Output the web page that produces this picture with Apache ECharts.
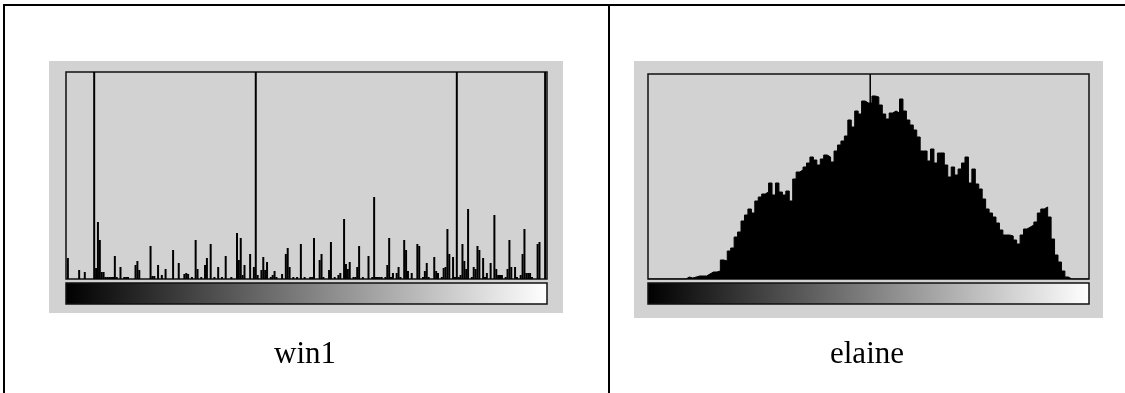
<!DOCTYPE html>
<html>
<head>
<meta charset="utf-8">
<script src="https://cdn.jsdelivr.net/npm/echarts@6/dist/echarts.min.js"></script>
<style>
  html, body { margin: 0; padding: 0; background: #fff; }
  #chart { width: 1125px; height: 393px; }
</style>
</head>
<body>
<div id="chart"></div>
<script>
// win1: sparse grey-level histogram, [level, count] (counts above 207 run off the top)
const win1Spikes = [
  [1, 21], [7, 9], [10, 7], [15, 300], [16, 11], [17, 57], [18, 39], [19, 7], [20, 7],
  [21, 2], [22, 2], [23, 2], [24, 2], [25, 2], [26, 23], [27, 2], [29, 12], [31, 2],
  [32, 2], [33, 2], [37, 14], [38, 18], [39, 9], [45, 33], [46, 3], [47, 3], [49, 14],
  [51, 4], [53, 10], [57, 29], [60, 16], [63, 5], [64, 6], [65, 5], [67, 2], [69, 39],
  [70, 10], [72, 2], [74, 14], [75, 21], [77, 35], [79, 2], [81, 12], [83, 2], [85, 23],
  [88, 2], [91, 46], [92, 19], [93, 41], [94, 4], [95, 14], [98, 25], [100, 12],
  [101, 300], [102, 4], [104, 9], [105, 22], [106, 9], [107, 17], [109, 2], [110, 4],
  [111, 8], [112, 2], [115, 5], [117, 25], [118, 31], [119, 12], [121, 2], [123, 2],
  [125, 35], [127, 2], [130, 2], [131, 2], [132, 41], [135, 19], [136, 25], [137, 2],
  [140, 9], [141, 37], [143, 2], [145, 4], [146, 6], [148, 60], [149, 15], [150, 10],
  [151, 17], [153, 2], [154, 2], [155, 12], [156, 33], [158, 2], [161, 23], [163, 2],
  [164, 82], [165, 2], [166, 2], [167, 2], [168, 2], [170, 2], [171, 14], [172, 41],
  [173, 2], [174, 6], [176, 6], [177, 12], [178, 2], [180, 39], [181, 29], [182, 8],
  [184, 6], [187, 35], [188, 33], [190, 2], [191, 8], [192, 16], [193, 2], [196, 22],
  [197, 8], [198, 6], [200, 2], [201, 11], [202, 12], [203, 50], [204, 25], [206, 22],
  [207, 2], [208, 300], [209, 2], [210, 4], [211, 35], [212, 18], [213, 10], [214, 70],
  [216, 2], [217, 12], [218, 10], [219, 33], [220, 29], [222, 21], [223, 2], [224, 6],
  [226, 16], [228, 64], [229, 10], [230, 4], [231, 4], [232, 4], [234, 2], [235, 10],
  [236, 39], [237, 12], [239, 12], [240, 2], [242, 4], [243, 25], [244, 50], [245, 6],
  [246, 6], [247, 6], [248, 2], [251, 35], [252, 37], [255, 300]
];
const win1Max = 207;

// elaine: dense histogram, one value per 2 grey levels (128 bins)
const elaineCounts = [
  0, 0, 0, 0, 0, 0, 0, 0, 0, 0, 0, 2, 1, 2, 3, 3,
  3, 5, 7, 7, 8, 19, 18, 28, 31, 42, 47, 58, 64, 70, 66, 78,
  82, 85, 87, 96, 84, 96, 87, 84, 88, 78, 100, 107, 109, 112, 116, 122,
  119, 114, 120, 124, 122, 117, 128, 134, 138, 143, 159, 152, 168, 165, 178, 176,
  176, 183, 182, 174, 165, 160, 166, 168, 166, 180, 168, 159, 154, 149, 142, 128,
  128, 118, 130, 116, 126, 126, 114, 102, 112, 104, 110, 116, 122, 96, 110, 95,
  90, 80, 70, 66, 62, 56, 49, 44, 44, 43, 39, 35, 44, 50, 52, 54,
  57, 66, 70, 72, 62, 40, 24, 17, 8, 2, 0, 0, 0, 0, 0, 0
];
const elaineBinSize = 2;
const elaineMax = 205;
const elainePeakLevel = 129;

const captions = ["win1", "elaine"];

const chart = echarts.init(document.getElementById("chart"));

const elaineData = elaineCounts.map((v, i) => [i * elaineBinSize, v]);
elaineData.push([256, elaineCounts[elaineCounts.length - 1]]);

const panelGray = "#d2d2d2";
const frameColor = "#111";
const captionFont = '31px "Liberation Serif"';

function grayBar(x, y, w) {
  return {
    type: "rect",
    z: 5,
    shape: { x: x, y: y, width: w, height: 21 },
    style: {
      fill: new echarts.graphic.LinearGradient(0, 0, 1, 0, [
        { offset: 0, color: "#000" },
        { offset: 1, color: "#fff" },
      ]),
      stroke: frameColor,
      lineWidth: 1.5,
    },
  };
}

const option = {
  animation: false,
  backgroundColor: "#fff",
  grid: [
    {
      left: 66, top: 72, width: 481, height: 207,
      show: true, backgroundColor: panelGray,
      borderColor: frameColor, borderWidth: 1.5,
    },
    {
      left: 648, top: 74, width: 441, height: 205,
      show: true, backgroundColor: panelGray,
      borderColor: frameColor, borderWidth: 1.5,
    },
  ],
  xAxis: [
    { gridIndex: 0, type: "value", min: 0, max: 256, show: false },
    { gridIndex: 1, type: "value", min: 0, max: 256, show: false },
  ],
  yAxis: [
    { gridIndex: 0, type: "value", min: 0, max: win1Max, show: false },
    { gridIndex: 1, type: "value", min: 0, max: elaineMax, show: false },
  ],
  series: [
    {
      name: "win1",
      type: "bar",
      xAxisIndex: 0,
      yAxisIndex: 0,
      data: win1Spikes,
      barWidth: 2,
      itemStyle: { color: "#000" },
    },
    {
      name: "elaine",
      type: "line",
      xAxisIndex: 1,
      yAxisIndex: 1,
      data: elaineData,
      step: "end",
      showSymbol: false,
      lineStyle: { color: "#000", width: 1 },
      areaStyle: { color: "#000", opacity: 1 },
    },
    {
      name: "elaine peak",
      type: "bar",
      xAxisIndex: 1,
      yAxisIndex: 1,
      data: [[elainePeakLevel, elaineMax * 2]],
      barWidth: 1.5,
      itemStyle: { color: "#000" },
    },
  ],
  graphic: [
    // table rules
    { type: "line", shape: { x1: 3, y1: 5, x2: 1125, y2: 5 }, style: { stroke: "#000", lineWidth: 2 } },
    { type: "line", shape: { x1: 4, y1: 5, x2: 4, y2: 393 }, style: { stroke: "#000", lineWidth: 2 } },
    { type: "line", shape: { x1: 609, y1: 5, x2: 609, y2: 393 }, style: { stroke: "#000", lineWidth: 2 } },
    // grey panels behind the histograms
    { type: "rect", z: -10, shape: { x: 49, y: 61, width: 514, height: 252 }, style: { fill: panelGray } },
    { type: "rect", z: -10, shape: { x: 634, y: 61, width: 469, height: 257 }, style: { fill: panelGray } },
    grayBar(66, 283, 481),
    grayBar(648, 283, 441),
    {
      type: "text", x: 305, y: 355,
      style: {
        text: captions[0], fill: "#000", font: captionFont,
        textAlign: "center", textVerticalAlign: "middle",
      },
    },
    {
      type: "text", x: 867, y: 355,
      style: {
        text: captions[1], fill: "#000", font: captionFont,
        textAlign: "center", textVerticalAlign: "middle",
      },
    },
  ],
};

chart.setOption(option);
</script>
</body>
</html>
